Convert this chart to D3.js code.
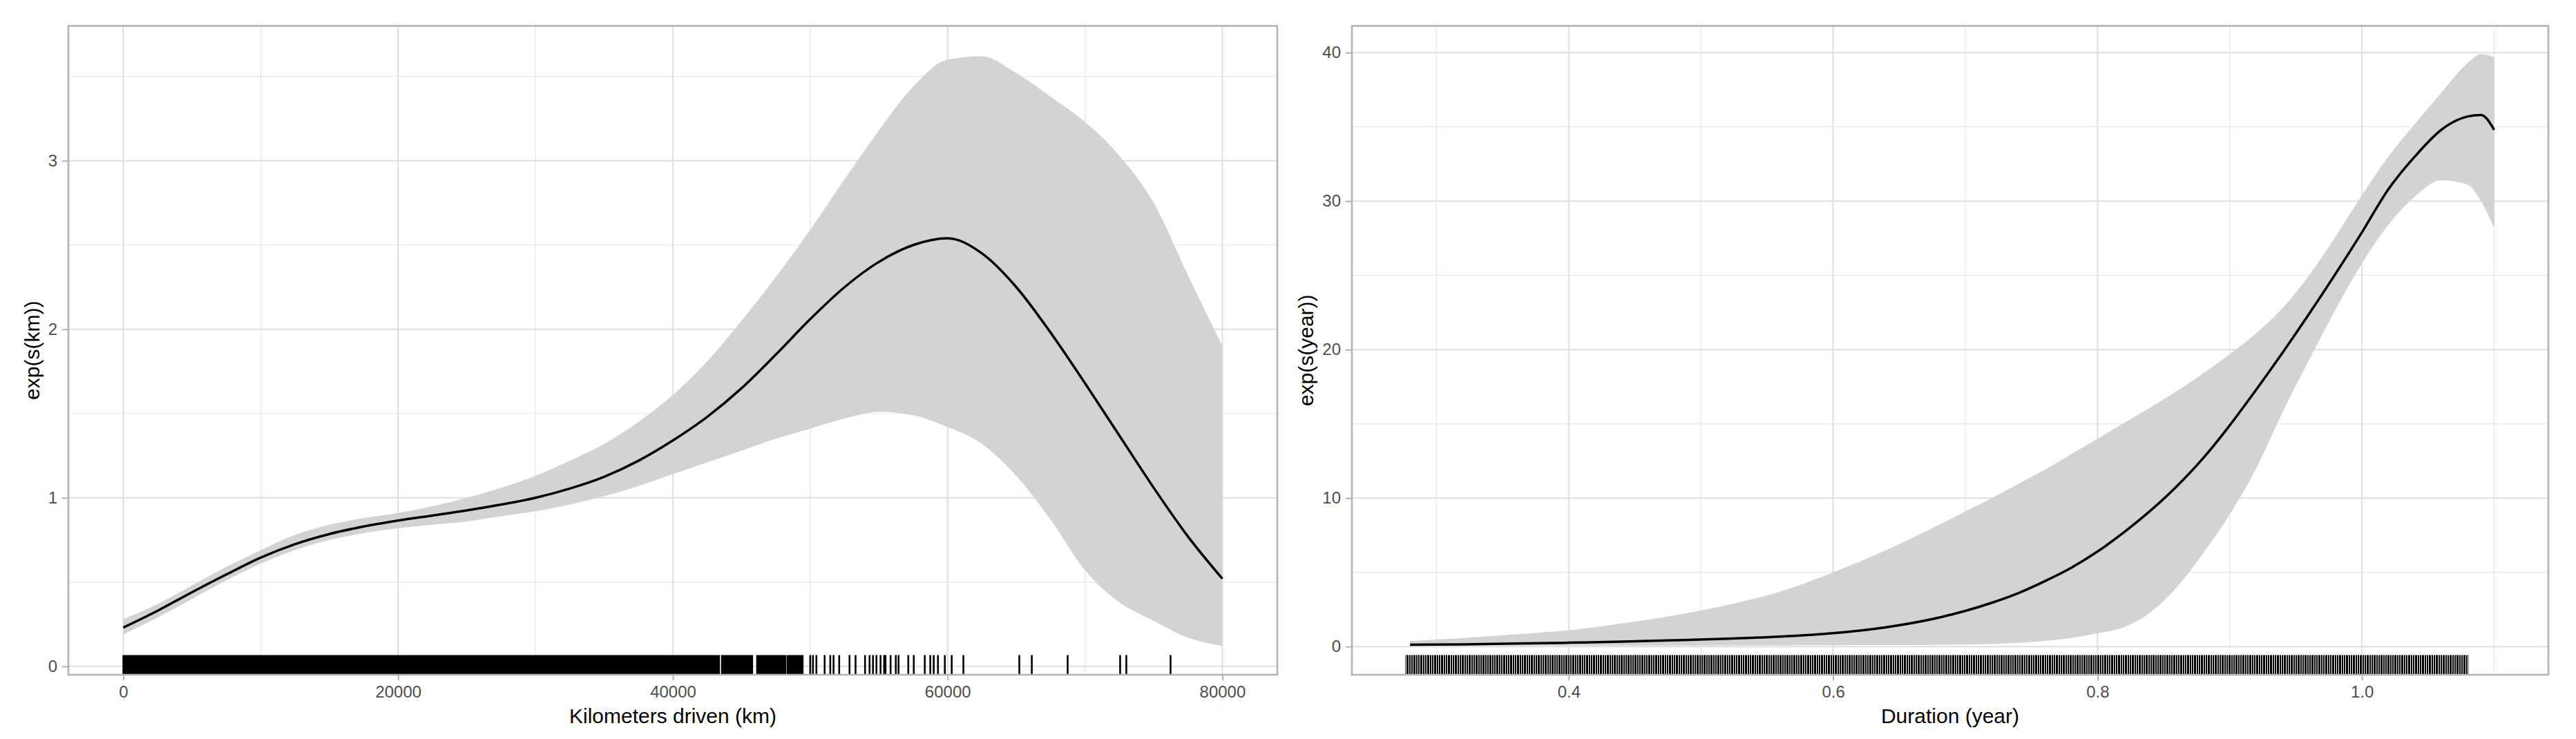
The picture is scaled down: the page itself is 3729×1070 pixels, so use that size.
<!DOCTYPE html>
<html>
<head>
<meta charset="utf-8">
<script src="https://cdn.jsdelivr.net/npm/d3@7"></script>
<style>
body{margin:0;background:#fff;}
text{font-family:"Liberation Sans",Arial,sans-serif;}
</style>
</head>
<body>
<div id="chart"></div>
<script>
// ----- DATA: smooth of kilometers driven -----
const kmGrid  = [0,2500,5000,7500,10000,12500,15000,17500,20000,22500,25000,27500,30000,32500,35000,37500,40000,42500,45000,47500,50000,52500,55000,57500,60000,62500,65000,67500,70000,72500,75000,77500,80000];
const kmFit   = [0.23,0.33,0.44,0.545,0.645,0.725,0.785,0.83,0.865,0.895,0.925,0.96,1.00,1.055,1.125,1.22,1.34,1.48,1.65,1.85,2.06,2.25,2.40,2.50,2.54,2.45,2.25,1.98,1.68,1.37,1.06,0.77,0.52];
const kmLower = [0.19,0.29,0.40,0.51,0.61,0.69,0.75,0.79,0.82,0.84,0.86,0.89,0.92,0.96,1.01,1.07,1.14,1.21,1.28,1.35,1.41,1.47,1.51,1.49,1.42,1.32,1.13,0.87,0.57,0.38,0.27,0.17,0.12];
const kmUpper = [0.28,0.37,0.48,0.59,0.69,0.78,0.84,0.88,0.91,0.95,1.00,1.06,1.13,1.22,1.32,1.45,1.61,1.81,2.05,2.31,2.59,2.89,3.18,3.44,3.60,3.62,3.52,3.38,3.23,3.03,2.75,2.32,1.90];
// rug: stretches where ticks merge, then single ticks
const kmRugBands = [[0,43370],[43570,45780],[46130,48190],[48340,48690],[48800,49450]];
const kmRugTicks = [50000,50200,50450,51050,51460,51700,52110,52860,53300,53990,54320,54570,54820,55120,55380,55480,55850,56230,56430,57140,57540,58340,58740,58990,59300,59800,60300,61150,65220,66130,68740,72560,73010,76230];
const kmTicks  = [0,20000,40000,60000,80000];
const kmMinor  = [10000,30000,50000,70000];
const kmYTicks = [0,1,2,3];
const kmYMinor = [0.5,1.5,2.5,3.5];

// ----- DATA: smooth of duration -----
const yrGrid  = [0.28,0.32,0.36,0.40,0.44,0.48,0.52,0.56,0.60,0.64,0.68,0.70,0.72,0.74,0.76,0.78,0.80,0.82,0.84,0.86,0.88,0.90,0.92,0.94,0.96,0.98,1.00,1.02,1.04,1.06,1.08,1.09,1.10];
const yrFit   = [0.12,0.15,0.20,0.26,0.33,0.42,0.53,0.67,0.90,1.30,1.95,2.40,2.95,3.60,4.40,5.30,6.40,7.70,9.15,10.8,12.7,14.9,17.3,19.8,22.4,25.1,27.9,30.8,33.0,34.8,35.7,35.8,34.8];
const yrLower = [0.06,0.06,0.06,0.06,0.06,0.06,0.07,0.08,0.09,0.10,0.12,0.13,0.17,0.25,0.38,0.58,0.89,1.30,2.30,4.00,6.30,8.90,12.0,15.8,19.3,22.7,25.8,28.4,30.3,31.4,31.1,30.0,28.2];
const yrUpper = [0.37,0.58,0.82,1.10,1.55,2.10,2.80,3.70,5.00,6.50,8.20,9.10,10.0,10.95,11.9,12.95,14.0,15.05,16.1,17.2,18.4,19.7,21.1,22.8,25.0,27.6,30.4,33.0,35.2,37.3,39.3,39.9,39.7];
const yrRugBands = [[0.277,1.080]];   // densely packed ticks, drawn striped
const yrTicks  = [0.4,0.6,0.8,1.0];
const yrMinor  = [0.3,0.5,0.7,0.9,1.1];
const yrYTicks = [0,10,20,30,40];
const yrYMinor = [5,15,25,35];

// ----- SETUP -----
const W = 3729, H = 1070;
const svg = d3.select("#chart").append("svg")
    .attr("width", W).attr("height", H)
    .style("background", "#fff");

// striped fill for the dense duration rug (3 ticks per 10px)
const pat = svg.append("defs").append("pattern")
    .attr("id", "rugStripes")
    .attr("patternUnits", "userSpaceOnUse")
    .attr("width", 10).attr("height", 40);
[[0,2],[3,2],[6,3]].forEach(s=>{
    pat.append("rect").attr("x", s[0]).attr("width", s[1]).attr("height", 40).attr("fill", "#000");
});

const TOP = 37.5, BOTTOM = 977;

const panels = [
    {
        left: 99, right: 1849,
        xDomain: [-4000, 84000], yDomain: [-0.05, 3.8],
        grid: kmGrid, fit: kmFit, lower: kmLower, upper: kmUpper,
        rugBands: kmRugBands, rugTicks: kmRugTicks, rugFill: "#000",
        xTicks: kmTicks, xMinor: kmMinor, yTicks: kmYTicks, yMinor: kmYMinor,
        xFmt: d3.format("d"), yFmt: d3.format("d"),
        xTitle: "Kilometers driven (km)", yTitle: "exp(s(km))", yTitleX: 57
    },
    {
        left: 1957, right: 3689,
        xDomain: [0.236, 1.141], yDomain: [-1.9, 41.8],
        grid: yrGrid, fit: yrFit, lower: yrLower, upper: yrUpper,
        rugBands: yrRugBands, rugTicks: [], rugFill: "url(#rugStripes)",
        xTicks: yrTicks, xMinor: yrMinor, yTicks: yrYTicks, yMinor: yrYMinor,
        xFmt: d3.format(".1f"), yFmt: d3.format("d"),
        xTitle: "Duration (year)", yTitle: "exp(s(year))", yTitleX: 1901
    }
];

panels.forEach(drawPanel);

function drawPanel(p){
    const x = d3.scaleLinear().domain(p.xDomain).range([p.left, p.right]);
    const y = d3.scaleLinear().domain(p.yDomain).range([BOTTOM, TOP]);
    const g = svg.append("g");

    // grid: minor then major
    g.selectAll(".vminor").data(p.xMinor).enter().append("line")
        .attr("x1", d=>x(d)).attr("x2", d=>x(d)).attr("y1", TOP).attr("y2", BOTTOM)
        .attr("stroke", "#E6E6E6").attr("stroke-width", 1.2);
    g.selectAll(".hminor").data(p.yMinor).enter().append("line")
        .attr("x1", p.left).attr("x2", p.right).attr("y1", d=>y(d)).attr("y2", d=>y(d))
        .attr("stroke", "#E6E6E6").attr("stroke-width", 1.2);
    g.selectAll(".vmajor").data(p.xTicks).enter().append("line")
        .attr("x1", d=>x(d)).attr("x2", d=>x(d)).attr("y1", TOP).attr("y2", BOTTOM)
        .attr("stroke", "#DEDEDE").attr("stroke-width", 2);
    g.selectAll(".hmajor").data(p.yTicks).enter().append("line")
        .attr("x1", p.left).attr("x2", p.right).attr("y1", d=>y(d)).attr("y2", d=>y(d))
        .attr("stroke", "#DEDEDE").attr("stroke-width", 2);

    // confidence ribbon + fit
    const rows = p.grid.map((v,i)=>({x:v, fit:p.fit[i], lo:p.lower[i], hi:p.upper[i]}));
    const area = d3.area().curve(d3.curveMonotoneX)
        .x(d=>x(d.x)).y0(d=>y(d.lo)).y1(d=>y(d.hi));
    const line = d3.line().curve(d3.curveMonotoneX)
        .x(d=>x(d.x)).y(d=>y(d.fit));
    g.append("path").datum(rows).attr("d", area).attr("fill", "#D3D3D3");
    g.append("path").datum(rows).attr("d", line)
        .attr("fill", "none").attr("stroke", "#000").attr("stroke-width", 3.5)
        .attr("stroke-linejoin", "round");

    // rug
    const rugTop = BOTTOM - 28.5;
    g.selectAll(".rugband").data(p.rugBands).enter().append("rect")
        .attr("x", d=>x(d[0]) - 1.2).attr("width", d=>x(d[1]) - x(d[0]) + 2.4)
        .attr("y", rugTop).attr("height", BOTTOM - rugTop)
        .attr("fill", p.rugFill);
    g.selectAll(".rugtick").data(p.rugTicks).enter().append("line")
        .attr("x1", d=>x(d)).attr("x2", d=>x(d)).attr("y1", rugTop).attr("y2", BOTTOM)
        .attr("stroke", "#000").attr("stroke-width", 2.6);

    // panel border
    g.append("rect")
        .attr("x", p.left).attr("y", TOP)
        .attr("width", p.right - p.left).attr("height", BOTTOM - TOP)
        .attr("fill", "none").attr("stroke", "#B3B3B3").attr("stroke-width", 2.6);

    // axes
    const xAxis = g.append("g").attr("transform", `translate(0,${BOTTOM})`)
        .call(d3.axisBottom(x).tickValues(p.xTicks).tickFormat(p.xFmt).tickSize(8).tickPadding(8));
    const yAxis = g.append("g").attr("transform", `translate(${p.left},0)`)
        .call(d3.axisLeft(y).tickValues(p.yTicks).tickFormat(p.yFmt).tickSize(9).tickPadding(7));
    [xAxis, yAxis].forEach(a=>{
        a.select(".domain").remove();
        a.selectAll(".tick line").attr("stroke", "#B3B3B3").attr("stroke-width", 2);
        a.selectAll(".tick text").attr("fill", "#4D4D4D")
            .style("font-size", "24px").style("font-family", "'Liberation Sans', Arial, sans-serif");
    });

    // titles
    g.append("text")
        .attr("x", (p.left + p.right)/2).attr("y", 1047)
        .attr("text-anchor", "middle")
        .style("font-size", "30px").attr("fill", "#000")
        .text(p.xTitle);
    g.append("text")
        .attr("transform", `translate(${p.yTitleX},${(TOP + BOTTOM)/2}) rotate(-90)`)
        .attr("text-anchor", "middle")
        .style("font-size", "30px").attr("fill", "#000")
        .text(p.yTitle);
}
</script>
</body>
</html>
